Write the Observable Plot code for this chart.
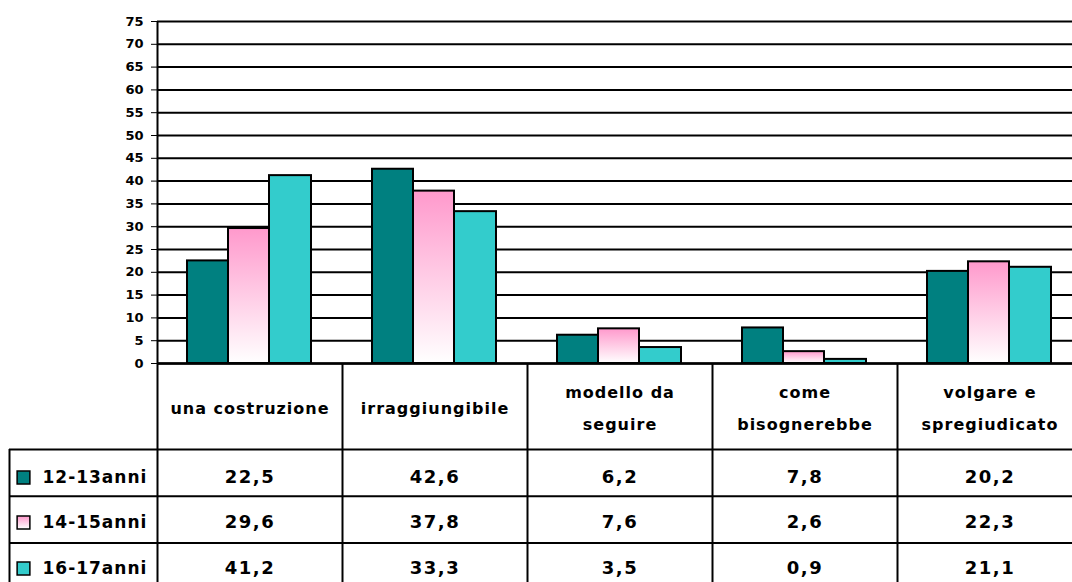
<!DOCTYPE html>
<html><head><meta charset="utf-8">
<script src="https://cdn.jsdelivr.net/npm/d3@7"></script>
<script src="https://cdn.jsdelivr.net/npm/@observablehq/plot@0.6"></script>
<style>
html,body{margin:0;padding:0;background:#fff;overflow:hidden;}
#chart svg{overflow:visible;max-width:none !important;}
#chart svg text{font-family:"DejaVu Sans",sans-serif;font-weight:bold;fill:#000;}
#chart [aria-label^="y-axis"] line{stroke-width:2;}
#chart g[font-size="16"] text{letter-spacing:1px;}
#chart g[font-size="18"] text{letter-spacing:1.5px;}
#chart g[font-size="17"] text{letter-spacing:1px;}
</style></head><body><div id="chart"></div>
<script>
// ---- data ----
const categories = ["una costruzione", "irraggiungibile", "modello da\nseguire", "come\nbisognerebbe", "volgare e\nspregiudicato"];
const seriesNames = ["12-13anni", "14-15anni", "16-17anni"];
const values1213 = [22.5, 42.6, 6.2, 7.8, 20.2];
const values1415 = [29.6, 37.8, 7.6, 2.6, 22.3];
const values1617 = [41.2, 33.3, 3.5, 0.9, 21.1];
const yTicks = [0, 5, 10, 15, 20, 25, 30, 35, 40, 45, 50, 55, 60, 65, 70, 75];

const seriesValues = [values1213, values1415, values1617];
const rows = categories.flatMap((c, j) => seriesNames.map((s, i) => ({category: c, series: s, value: seriesValues[i][j]})));
const fmt = v => v.toFixed(1).replace(".", ",");

// ---- style/layout ----
const fills = ["#008080", "url(#pinkFade)", "#33cccc"];
const band = 185;
const barInsets = [[30, 114], [71, 73], [112, 31]];
const headerH = 86, rowH = 46.7;
const rowTextDy = [114, 159, 205];
const tableLeft = 148;

const defsMark = () => {
  const defs = d3.create("svg:defs");
  const g = defs.append("linearGradient").attr("id", "pinkFade")
    .attr("x1", 0).attr("y1", 0).attr("x2", 0).attr("y2", 1);
  g.append("stop").attr("offset", "0%").attr("stop-color", "#ff99cc");
  g.append("stop").attr("offset", "100%").attr("stop-color", "#ffffff");
  return defs.node();
};

const marks = [defsMark,
  Plot.ruleY(yTicks, {stroke: "#000", strokeWidth: 2})
];
seriesNames.forEach((s, i) => {
  marks.push(Plot.barY(rows.filter(r => r.series === s), {
    x: "category", y: "value", fill: fills[i], stroke: "#000", strokeWidth: 2,
    insetLeft: barInsets[i][0], insetRight: barInsets[i][1]
  }));
});
const tableBottom = headerH + 3 * rowH;
// zero line
marks.push(Plot.ruleY([0], {stroke: "#000", strokeWidth: 2.5}));
// axis line + table left column line
marks.push(Plot.ruleX([categories[0]], {x: d => d, y1: () => 75, y2: () => 0, dx: -band / 2, insetBottom: -tableBottom, stroke: "#000", strokeWidth: 2}));
// category separators
marks.push(Plot.ruleX(categories.slice(1), {x: d => d, y1: () => 0, y2: () => 0, dx: -band / 2, insetBottom: -tableBottom, stroke: "#000", strokeWidth: 2}));
marks.push(Plot.ruleX([categories[categories.length - 1]], {x: d => d, y1: () => 0, y2: () => 0, dx: band / 2, insetBottom: -tableBottom, stroke: "#000", strokeWidth: 2}));
// table outer left border
marks.push(Plot.ruleX([categories[0]], {x: d => d, y1: () => 0, y2: () => 0, dx: -band / 2 - tableLeft, insetTop: headerH, insetBottom: -tableBottom, stroke: "#000", strokeWidth: 2}));
// table horizontal lines
[headerH, headerH + rowH, headerH + 2 * rowH, tableBottom].forEach(dy => {
  marks.push(Plot.ruleY([0], {dy, insetLeft: -tableLeft, stroke: "#000", strokeWidth: 2}));
});
// header labels
marks.push(Plot.text(categories, {x: d => d, y: d => 0, dy: 40, text: d => d, fontSize: 16, lineHeight: 2.05, lineAnchor: "middle"}));
// values + row labels + legend keys
seriesNames.forEach((s, i) => {
  marks.push(Plot.text(categories, {x: d => d, y: d => 0, dy: rowTextDy[i], text: (d, j) => fmt(seriesValues[i][j]), fontSize: 18}));
  marks.push(Plot.text([s], {frameAnchor: "left", y: d => 0, dy: rowTextDy[i], dx: -115, text: d => d, textAnchor: "start", fontSize: 17}));
  marks.push(Plot.dot([s], {frameAnchor: "left", y: d => 0, dy: rowTextDy[i], dx: -134, symbol: "square", r: 7.2, fill: fills[i], stroke: "#000", strokeWidth: 1.5}));
});

const chart = Plot.plot({
  width: 1090,
  height: 592,
  marginLeft: 157,
  marginRight: 8,
  marginTop: 21,
  marginBottom: 229,
  style: {background: "#fff", fontSize: "13px", fontFamily: "DejaVu Sans, sans-serif", fontWeight: "bold", color: "#000"},
  x: {domain: categories, padding: 0, axis: null, round: false},
  y: {domain: [0, 75], ticks: yTicks, tickSize: 6, tickPadding: 8, label: null, tickFormat: d => String(d)},
  marks
});
document.getElementById("chart").appendChild(chart);
</script>
</body></html>
